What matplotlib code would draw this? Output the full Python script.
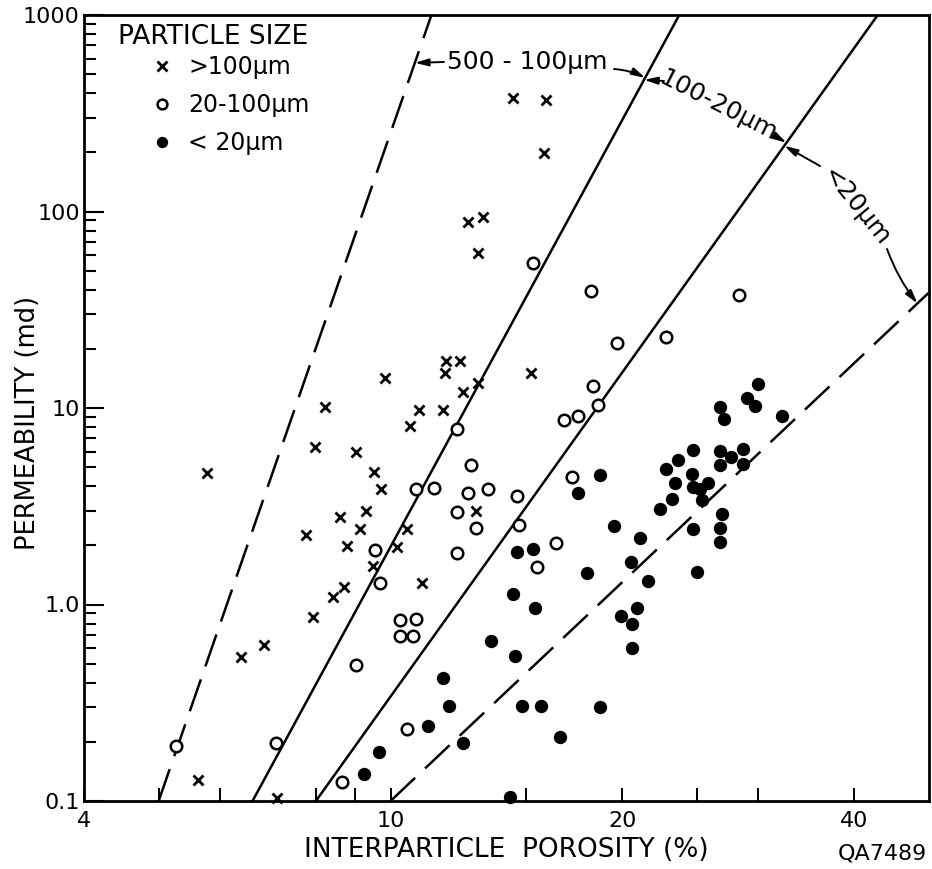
import numpy as np
import matplotlib
matplotlib.use("Agg")
import matplotlib.pyplot as plt
from matplotlib.ticker import FixedLocator, FixedFormatter, NullFormatter

# Interparticle porosity (%) and permeability (md), grouped by particle size
coarse_porosity = [5.77, 14.4, 15.9, 15.8, 12.6, 13.2, 13.0, 11.8, 12.3, 11.75,
                   13.0, 12.4, 9.85, 10.9, 11.7, 10.6, 8.21, 7.97, 9.01, 9.53,
                   9.73, 8.59, 9.28, 9.14, 10.5, 7.76, 8.77, 10.2, 9.50, 12.9,
                   11.0, 8.71, 8.41, 7.92, 6.86, 6.40, 5.63, 7.13, 15.2]
coarse_perm = [4.66, 379, 370, 199, 88.9, 94.2, 61.8, 17.3, 17.3, 15.0,
               13.4, 12.0, 14.2, 9.73, 9.73, 8.07, 10.1, 6.31, 5.96, 4.71,
               3.86, 2.78, 2.99, 2.42, 2.42, 2.25, 1.98, 1.96, 1.57, 2.99,
               1.29, 1.23, 1.09, 0.864, 0.623, 0.541, 0.128, 0.103, 15.0]

medium_porosity = [15.3, 18.2, 28.3, 12.2, 12.7, 10.8, 11.4, 12.6, 13.4, 12.2,
                   12.9, 12.2, 9.56, 9.70, 19.7, 22.8, 18.3, 18.6, 16.8, 17.5,
                   17.2, 14.6, 14.7, 16.4, 15.5, 10.3, 10.8, 10.3, 10.7, 9.03,
                   10.5, 8.66, 7.11, 5.27]
medium_perm = [55.0, 39.2, 37.8, 7.79, 5.12, 3.86, 3.91, 3.69, 3.86, 2.95,
               2.45, 1.83, 1.89, 1.29, 21.3, 23.1, 12.9, 10.4, 8.66, 9.07,
               4.44, 3.56, 2.54, 2.05, 1.55, 0.834, 0.844, 0.692, 0.692, 0.493,
               0.233, 0.125, 0.198, 0.191]

fine_porosity = [30.0, 29.0, 29.7, 26.8, 27.1, 32.2, 24.7, 23.6, 22.8, 24.6,
                 23.4, 24.7, 25.2, 25.8, 25.4, 23.2, 22.4, 26.8, 28.7, 27.7,
                 26.8, 28.7, 18.7, 17.5, 19.5, 21.1, 20.5, 21.6, 25.0, 24.7,
                 26.9, 26.8, 26.8, 14.6, 15.3, 18.0, 14.4, 15.4, 13.5, 14.5,
                 19.9, 20.9, 20.6, 20.6, 14.8, 15.7, 18.7, 16.6, 14.3, 11.7,
                 11.9, 11.2, 12.4, 9.65, 9.25]
fine_perm = [13.2, 11.2, 10.2, 10.1, 8.76, 9.07, 6.10, 5.42, 4.88, 4.60,
             4.14, 3.96, 3.86, 4.14, 3.40, 3.44, 3.06, 6.03, 6.17, 5.62,
             5.12, 5.18, 4.55, 3.69, 2.51, 2.18, 1.64, 1.32, 1.46, 2.42,
             2.88, 2.45, 2.08, 1.85, 1.91, 1.45, 1.13, 0.960, 0.652, 0.547,
             0.874, 0.960, 0.796, 0.601, 0.305, 0.305, 0.301, 0.212, 0.105, 0.423,
             0.305, 0.241, 0.198, 0.178, 0.138]

# Class boundaries (porosity, permeability end points on log-log axes)
bound_outer_x, bound_outer_y = [5.0, 11.3], [0.1, 1000]      # left edge of 500-100 um
bound_100_x, bound_100_y = [6.62, 23.7], [0.1, 1000]         # 500-100 / 100-20 um
bound_20_x, bound_20_y = [8.0, 42.9], [0.1, 1000]            # 100-20 / <20 um
bound_fine_x, bound_fine_y = [10.0, 50.0], [0.1, 38.7]       # lower edge of <20 um

class_labels = [">100\u03bcm", "20-100\u03bcm", "< 20\u03bcm"]
x_tick_labels = ["4", "10", "20", "40"]
y_tick_labels = ["0.1", "1.0", "10", "100", "1000"]


def _loglerp(xa, ya, v):
    a, b = np.log10(xa), np.log10(ya)
    t = (np.log10(v) - a[0]) / (a[1] - a[0])
    return 10 ** (b[0] + t * (b[1] - b[0]))


def x_on_line(lx, ly, y):
    """Porosity where a straight log-log boundary reaches permeability y."""
    return _loglerp(ly, lx, y)


def y_on_line(lx, ly, x):
    """Permeability of a straight log-log boundary at porosity x."""
    return _loglerp(lx, ly, x)


fig = plt.figure(figsize=(9.32, 8.69), dpi=100)
ax = fig.add_axes([84 / 932, 1 - 801 / 869, 845 / 932, 786 / 869])
ax.set_xscale("log")
ax.set_yscale("log")
ax.set_xlim(4, 50)
ax.set_ylim(0.1, 1000)

dash = (0, (13.5, 5.5))
ax.plot(bound_outer_x, bound_outer_y, color="k", lw=1.8, ls=dash)
ax.plot(bound_100_x, bound_100_y, color="k", lw=1.8)
ax.plot(bound_20_x, bound_20_y, color="k", lw=1.8)
ax.plot(bound_fine_x, bound_fine_y, color="k", lw=1.8, ls=dash)

h1, = ax.plot(coarse_porosity, coarse_perm, ls="none", marker="x", ms=7.8,
              mew=2.0, color="k", clip_on=False)
h2, = ax.plot(medium_porosity, medium_perm, ls="none", marker="o", ms=8.3,
              mew=1.8, mfc="white", mec="k", clip_on=False)
h3, = ax.plot(fine_porosity, fine_perm, ls="none", marker="o", ms=9.6,
              mew=0, mfc="k", clip_on=False)

# Axes frame and ticks
for s in ax.spines.values():
    s.set_linewidth(2.0)
ax.xaxis.set_major_locator(FixedLocator([4, 10, 20, 40]))
ax.xaxis.set_major_formatter(FixedFormatter(x_tick_labels))
ax.xaxis.set_minor_locator(FixedLocator([5, 6, 8, 9, 15, 25, 30]))
ax.xaxis.set_minor_formatter(NullFormatter())
ax.yaxis.set_major_locator(FixedLocator([0.1, 1, 10, 100, 1000]))
ax.yaxis.set_major_formatter(FixedFormatter(y_tick_labels))
ax.yaxis.set_minor_locator(FixedLocator(
    [m * 10.0 ** e for e in range(-1, 3) for m in range(2, 10)]))
ax.yaxis.set_minor_formatter(NullFormatter())
ax.tick_params(axis="x", which="both", direction="in", length=9.5, width=1.4,
               labelsize=16, pad=7)
ax.tick_params(axis="y", which="major", direction="in", length=14.5, width=1.5,
               labelsize=16, pad=3)
ax.tick_params(axis="y", which="minor", direction="in", length=8.5, width=1.5)

ax.set_xlabel("INTERPARTICLE  POROSITY (%)", fontsize=19)
ax.xaxis.set_label_coords(0.4994, -0.0625)
ax.xaxis.label.set_va("center")
ax.set_ylabel("PERMEABILITY (md)", fontsize=18.5)
ax.yaxis.set_label_coords(-0.066, 0.481)
ax.yaxis.label.set_va("center")

fig.text(882 / 932, 1 - 854 / 869, "QA7489", fontsize=16, ha="center", va="center")

# Legend
ax.text(0.0402, 0.972, "PARTICLE SIZE", transform=ax.transAxes, fontsize=19,
        ha="left", va="center")
ax.legend([h1, h2, h3], class_labels, loc="upper left",
          bbox_to_anchor=(0.0780, 0.949), frameon=False, fontsize=17,
          handlelength=1.0, handletextpad=0.62, borderpad=0, borderaxespad=0,
          labelspacing=0.6, markerscale=0.85)

# Size-class annotations
fs = 18
ax.text(0.5243, 0.9402, "500 - 100\u03bcm", transform=ax.transAxes, fontsize=fs,
        ha="center", va="center")
ax.text(0.7503, 0.8842, "100-20\u03bcm", transform=ax.transAxes, fontsize=fs,
        ha="center", va="center", rotation=-27, rotation_mode="anchor")
ax.text(0.9136, 0.7557, "<20\u03bcm", transform=ax.transAxes, fontsize=fs,
        ha="center", va="center", rotation=-51, rotation_mode="anchor")

arrow = dict(arrowstyle="-|>,head_length=0.8,head_width=0.22", lw=1.4, color="k",
             shrinkA=0, shrinkB=0, mutation_scale=10)


def point_arrow(start, xy, rad=0.0):
    ax.annotate("", xy=xy, xycoords="data", xytext=start,
                textcoords="axes fraction",
                arrowprops=dict(arrow, connectionstyle=f"arc3,rad={rad}"))


point_arrow((0.426, 0.9402), (x_on_line(bound_outer_x, bound_outer_y, 571), 571))
point_arrow((0.6272, 0.9313), (x_on_line(bound_100_x, bound_100_y, 479), 479), rad=-0.1)
point_arrow((0.6864, 0.9160), (x_on_line(bound_100_x, bound_100_y, 468), 468))
point_arrow((0.8178, 0.8461), (x_on_line(bound_20_x, bound_20_y, 224), 224))
point_arrow((0.8710, 0.8079), (x_on_line(bound_20_x, bound_20_y, 216), 216))
point_arrow((0.9503, 0.7023), (48.3, y_on_line(bound_fine_x, bound_fine_y, 48.3)), rad=0.08)

fig.savefig("out.png", dpi=100, facecolor="white")
